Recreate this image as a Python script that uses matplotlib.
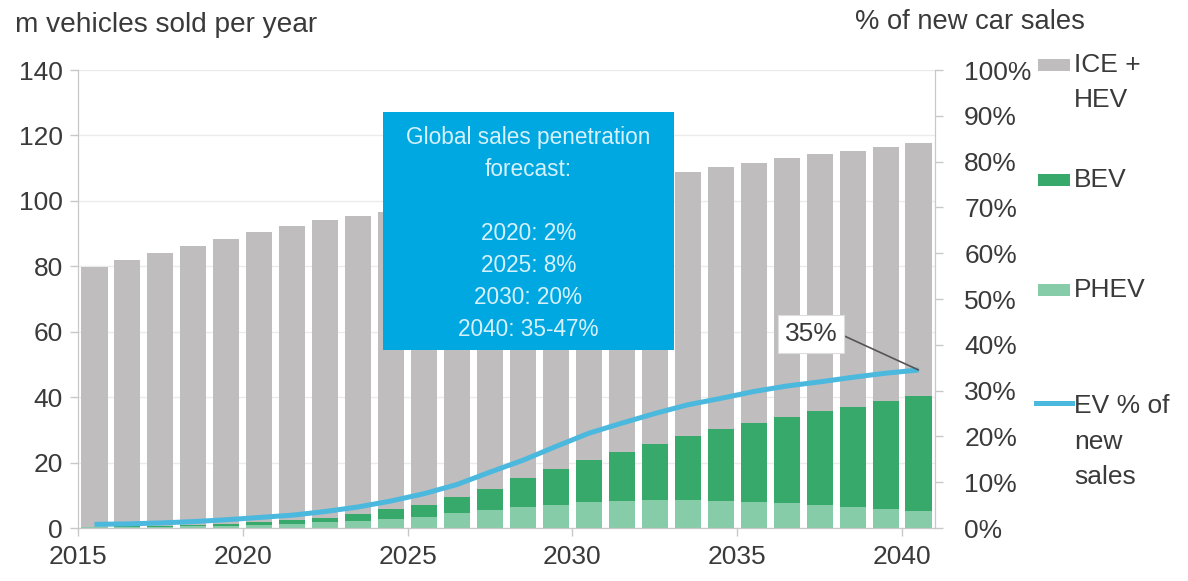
import matplotlib
matplotlib.use("Agg")
import matplotlib.pyplot as plt
from matplotlib.patches import Rectangle
from matplotlib.lines import Line2D
import numpy as np

plt.rcParams['font.family'] = ['Liberation Sans', 'DejaVu Sans']

years = list(range(2015, 2041))
ice_hev = [79.4, 81.4, 83.5, 85.2, 87.2, 88.7, 89.9, 90.8, 91.0, 90.8, 91.9, 90.9, 90.0,
           88.1, 87.1, 85.2, 83.7, 82.3, 80.8, 79.9, 79.3, 79.0, 78.5, 78.2, 77.8, 77.4]
bev = [0.2, 0.3, 0.3, 0.5, 0.6, 0.9, 1.0, 1.5, 2.1, 3.1, 3.6, 5.0, 6.6,
       9.1, 10.9, 13.0, 15.1, 17.1, 19.5, 22.1, 24.4, 26.5, 28.8, 30.6, 33.0, 35.2]
phev = [0.2, 0.3, 0.4, 0.5, 0.6, 0.9, 1.3, 1.7, 2.2, 2.8, 3.5, 4.6, 5.4,
        6.3, 7.0, 7.8, 8.2, 8.6, 8.6, 8.2, 7.8, 7.5, 7.0, 6.5, 5.8, 5.2]
ev_share = [0.8, 0.9, 1.1, 1.4, 1.8, 2.3, 2.8, 3.6, 4.6, 5.9, 7.5, 9.5, 12.2,
            14.8, 17.8, 20.7, 22.9, 25.0, 26.9, 28.3, 29.8, 31.0, 31.9, 32.9, 33.8, 34.5]
tick_years = [2015, 2020, 2025, 2030, 2035, 2040]
left_ticks = [0, 20, 40, 60, 80, 100, 120, 140]
right_ticks = [0, 10, 20, 30, 40, 50, 60, 70, 80, 90, 100]
box_lines = ["Global sales penetration", "forecast:", "", "2020: 2%", "2025: 8%",
             "2030: 20%", "2040: 35-47%"]

C_ICE = '#bfbdbd'
C_BEV = '#36a96b'
C_PHEV = '#86cca9'
C_LINE = '#4bb8de'
C_BOX = '#00a8e1'
C_TXT = '#3a3a3a'
C_AX = '#c8c8c8'

fig = plt.figure(figsize=(11.88, 5.81), dpi=100)
ax = fig.add_axes([78/1188, 1-528/581, (935-78)/1188, (528-70)/581])
ax2 = ax.twinx()

x = np.arange(len(years))
w = 0.79
phev_a = np.array(phev); bev_a = np.array(bev); ice_a = np.array(ice_hev)
ax.bar(x, phev_a, w, color=C_PHEV, zorder=2)
ax.bar(x, bev_a, w, bottom=phev_a, color=C_BEV, zorder=2)
ax.bar(x, ice_a, w, bottom=phev_a + bev_a, color=C_ICE, zorder=2)

ax.set_xlim(-0.5, len(years) - 0.5)
ax.set_ylim(0, 140)
ax.set_yticks(left_ticks)
ax.set_yticklabels([str(v) for v in left_ticks])
ax.grid(axis='y', color='#ebebeb', lw=1, zorder=0)
ax.set_axisbelow(True)
tpos = [years.index(y) - 0.5 for y in tick_years]
ax.set_xticks(tpos)
ax.set_xticklabels([str(y) for y in tick_years])

ax2.plot(x, ev_share, color=C_LINE, lw=3.6, solid_capstyle='butt', zorder=3)
ax2.set_ylim(0, 100)
ax2.set_yticks(right_ticks)
ax2.set_yticklabels([f"{v}%" for v in right_ticks])

for a in (ax, ax2):
    a.spines['top'].set_visible(False)
    for s in ['left', 'right', 'bottom']:
        a.spines[s].set_color(C_AX)
    a.tick_params(colors=C_AX, labelcolor=C_TXT, labelsize=19, length=6, width=1)
ax.tick_params(axis='x', pad=6)
ax.tick_params(axis='y', pad=5)
ax2.tick_params(axis='y', pad=15)

# Forecast box
bx0 = (383-78)/857; bx1 = (674-78)/857
by0 = (528-350)/458; by1 = (528-112)/458
ax2.add_patch(Rectangle((bx0, by0), bx1-bx0, by1-by0, transform=ax2.transAxes,
                        facecolor=C_BOX, edgecolor='none', zorder=10, clip_on=False))
ax2.text((bx0+bx1)/2, (528-233)/458, "\n".join(box_lines), transform=ax2.transAxes,
         ha='center', va='center', fontsize=16.3, color='#d6f1fb', linespacing=1.5,
         zorder=11)

# 35% annotation
last = len(years) - 1
ax2.annotate("35%", xy=(last, ev_share[-1]), xycoords='data',
             xytext=(811/1188, 1-334/581), textcoords='figure fraction',
             ha='center', va='center', fontsize=19, color=C_TXT, zorder=12,
             bbox=dict(boxstyle='square,pad=0.25', fc='white', ec='#dddddd', lw=0.8),
             arrowprops=dict(arrowstyle='-', color='#555555', lw=1.2,
                             shrinkA=0, shrinkB=0, relpos=(1.0, 0.55)))

# titles
fig.text(15/1188, 1-25/581, "m vehicles sold per year", fontsize=20.2, color=C_TXT,
         ha='left', va='center')
fig.text(855/1188, 1-22/581, "% of new car sales", fontsize=19.7, color=C_TXT,
         ha='left', va='center')

# legend (manual)
def leg_patch(yc, color):
    fig.patches.append(Rectangle((1038/1188, 1-(yc+6)/581), 32/1188, 12/581,
                                 transform=fig.transFigure, facecolor=color,
                                 edgecolor='none'))
leg_patch(65, C_ICE)
leg_patch(180, C_BEV)
leg_patch(290, C_PHEV)
fig.lines.append(Line2D([1036/1188, 1072/1188], [1-403/581, 1-403/581],
                        transform=fig.transFigure, color=C_LINE, lw=3.6))
tx = 1074/1188
fig.text(tx, 1-65/581, "ICE +", fontsize=19, color=C_TXT, va='center')
fig.text(tx, 1-100/581, "HEV", fontsize=19, color=C_TXT, va='center')
fig.text(tx, 1-180/581, "BEV", fontsize=19, color=C_TXT, va='center')
fig.text(tx, 1-290/581, "PHEV", fontsize=19, color=C_TXT, va='center')
fig.text(tx, 1-406/581, "EV % of", fontsize=19, color=C_TXT, va='center')
fig.text(tx, 1-442/581, "new", fontsize=19, color=C_TXT, va='center')
fig.text(tx, 1-477/581, "sales", fontsize=19, color=C_TXT, va='center')

fig.savefig("out.png", dpi=100)
